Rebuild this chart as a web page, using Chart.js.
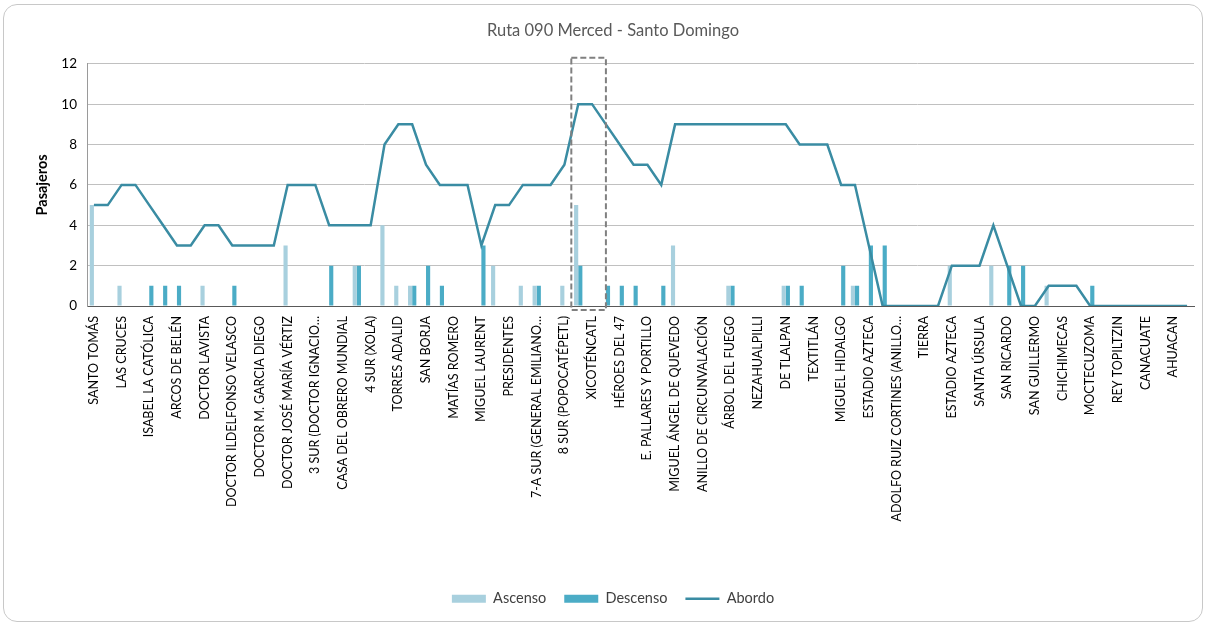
<!DOCTYPE html>
<html>
<head>
<meta charset="utf-8">
<title>Ruta 090 Merced - Santo Domingo</title>
<script src="https://cdn.jsdelivr.net/npm/chart.js@4.4.0/dist/chart.umd.min.js"></script>
<style>
  html, body { margin: 0; padding: 0; background: #fff; }
  #wrap { position: relative; width: 1206px; height: 623px; overflow: hidden; }
  #marco {
    position: absolute; left: 3px; top: 4px; width: 1198px; height: 616px;
    border: 1px solid #c8c8c8; border-radius: 14px; pointer-events: none;
  }
  canvas { position: absolute; left: 0; top: 0; }
</style>
</head>
<body>
<div id="wrap">
  <canvas id="grafica" width="1206" height="623"></canvas>
  <div id="marco"></div>
</div>
<script>
// paradas de la ruta (las impares no llevan etiqueta visible en el original)
const paradas = [
  "SANTO TOMÁS", "", "LAS CRUCES", "", "ISABEL LA CATÓLICA", "",
  "ARCOS DE BELÉN", "", "DOCTOR LAVISTA", "", "DOCTOR ILDELFONSO VELASCO", "",
  "DOCTOR M. GARCIA DIEGO", "", "DOCTOR JOSÉ MARÍA VÉRTIZ", "",
  "3 SUR (DOCTOR IGNACIO…", "", "CASA DEL OBRERO MUNDIAL", "",
  "4 SUR (XOLA)", "", "TORRES ADALID", "", "SAN BORJA", "",
  "MATÍAS ROMERO", "", "MIGUEL LAURENT", "", "PRESIDENTES", "",
  "7-A SUR (GENERAL EMILIANO…", "", "8 SUR (POPOCATÉPETL)", "",
  "XICOTÉNCATL", "", "HÉROES DEL 47", "", "E. PALLARES Y PORTILLO", "",
  "MIGUEL ÁNGEL DE QUEVEDO", "", "ANILLO DE CIRCUNVALACIÓN", "",
  "ÁRBOL DEL FUEGO", "", "NEZAHUALPILLI", "", "DE TLALPAN", "",
  "TEXTITLÁN", "", "MIGUEL HIDALGO", "", "ESTADIO AZTECA", "",
  "ADOLFO RUIZ CORTINES (ANILLO…", "", "TIERRA", "", "ESTADIO AZTECA", "",
  "SANTA ÚRSULA", "", "SAN RICARDO", "", "SAN GUILLERMO", "",
  "CHICHIMECAS", "", "MOCTECUZOMA", "", "REY TOPILTZIN", "",
  "CANACUATE", "", "AHUACAN", ""
];

const ascenso = [
  5, 0, 1, 0, 0, 0, 0, 0, 1, 0,
  0, 0, 0, 0, 3, 0, 0, 0, 0, 2,
  0, 4, 1, 1, 0, 0, 0, 0, 0, 2,
  0, 1, 1, 0, 1, 5, 0, 0, 0, 0,
  0, 0, 3, 0, 0, 0, 1, 0, 0, 0,
  1, 0, 0, 0, 0, 1, 0, 0, 0, 0,
  0, 0, 2, 0, 0, 2, 0, 0, 0, 1,
  0, 0, 0, 0, 0, 0, 0, 0, 0, 0
];

const descenso = [
  0, 0, 0, 0, 1, 1, 1, 0, 0, 0,
  1, 0, 0, 0, 0, 0, 0, 2, 0, 2,
  0, 0, 0, 1, 2, 1, 0, 0, 3, 0,
  0, 0, 1, 0, 0, 2, 0, 1, 1, 1,
  0, 1, 0, 0, 0, 0, 1, 0, 0, 0,
  1, 1, 0, 0, 2, 1, 3, 3, 0, 0,
  0, 0, 0, 0, 0, 0, 2, 2, 0, 0,
  0, 0, 1, 0, 0, 0, 0, 0, 0, 0
];

const abordo = [
  5, 5, 6, 6, 5, 4, 3, 3, 4, 4,
  3, 3, 3, 3, 6, 6, 6, 4, 4, 4,
  4, 8, 9, 9, 7, 6, 6, 6, 3, 5,
  5, 6, 6, 6, 7, 10, 10, 9, 8, 7,
  7, 6, 9, 9, 9, 9, 9, 9, 9, 9,
  9, 8, 8, 8, 6, 6, 3, 0, 0, 0,
  0, 0, 2, 2, 2, 4, 2, 0, 0, 1,
  1, 1, 0, 0, 0, 0, 0, 0, 0, 0
];

const yMax = 12;
const yPaso = 2;
// paradas que van dentro del recuadro punteado
const resaltado = [35, 36];

const fuente = "Lato, 'Open Sans', sans-serif";

// recuadro punteado alrededor de Xicoténcatl
const recuadro = {
  id: "recuadro",
  afterDraw(chart) {
    const sx = chart.scales.x, sy = chart.scales.y;
    const ancho = sx.getPixelForValue(1) - sx.getPixelForValue(0);
    const izq = sx.getPixelForValue(resaltado[0]) - ancho / 2;
    const der = sx.getPixelForValue(resaltado[1]) + ancho;
    const arriba = sy.getPixelForValue(yMax) - 6;
    const abajo = chart.chartArea.bottom + 4;
    const ctx = chart.ctx;
    ctx.save();
    ctx.setLineDash([6, 3]);
    ctx.strokeStyle = "#808080";
    ctx.lineWidth = 2;
    ctx.strokeRect(izq, arriba, der - izq, abajo - arriba);
    ctx.restore();
  }
};

new Chart(document.getElementById("grafica"), {
  type: "bar",
  data: {
    labels: paradas,
    datasets: [
      {
        label: "Ascenso",
        data: ascenso,
        backgroundColor: "#a8d0de",
        borderWidth: 0,
        pointStyle: "rect",
        categoryPercentage: 0.6,
        barPercentage: 1.0,
        order: 1
      },
      {
        label: "Descenso",
        data: descenso,
        backgroundColor: "#4bacc6",
        borderWidth: 0,
        pointStyle: "rect",
        categoryPercentage: 0.6,
        barPercentage: 1.0,
        order: 1
      },
      {
        type: "line",
        label: "Abordo",
        data: abordo,
        borderColor: "#3a8ca3",
        backgroundColor: "#3a8ca3",
        borderWidth: 2.5,
        pointRadius: 0,
        pointStyle: "line",
        tension: 0,
        order: 0
      }
    ]
  },
  options: {
    responsive: false,
    animation: false,
    devicePixelRatio: 1,
    layout: { padding: { left: 32, right: 12, top: 0, bottom: 7 } },
    plugins: {
      title: {
        display: true,
        text: "Ruta 090 Merced - Santo Domingo",
        color: "#595959",
        font: { family: fuente, size: 16.5, weight: "normal" },
        padding: { top: 21, bottom: 23 }
      },
      legend: {
        position: "bottom",
        labels: {
          usePointStyle: true,
          pointStyleWidth: 34,
          boxHeight: 8,
          padding: 18,
          color: "#404040",
          font: { family: fuente, size: 14.5 },
          sort: (a, b) => a.datasetIndex - b.datasetIndex
        }
      },
      tooltip: { enabled: false }
    },
    scales: {
      x: {
        grid: { display: false, drawTicks: false },
        border: { display: true, color: "#595959", width: 1 },
        ticks: {
          autoSkip: false,
          minRotation: 90,
          maxRotation: 90,
          padding: 10,
          color: "#000",
          font: { family: fuente, size: 12.5 },
          callback: (v, i) => paradas[i]
        },
        afterFit: (s) => {
          s.height = 267.5;
          s.paddingLeft = 0;
          s.paddingRight = 0;
        }
      },
      y: {
        min: 0,
        max: yMax,
        ticks: {
          stepSize: yPaso,
          padding: 10,
          color: "#000",
          font: { family: fuente, size: 13.5 }
        },
        grid: { color: "#c0c0c0", drawTicks: false },
        border: { display: true, color: "#9a9a9a" },
        title: {
          display: true,
          text: "Pasajeros",
          color: "#000",
          font: { family: fuente, size: 14.5, weight: "bold" },
          padding: { top: 2, bottom: 0 }
        },
        afterFit: (s) => { s.width = 55; }
      }
    }
  },
  plugins: [recuadro]
});
</script>
</body>
</html>
